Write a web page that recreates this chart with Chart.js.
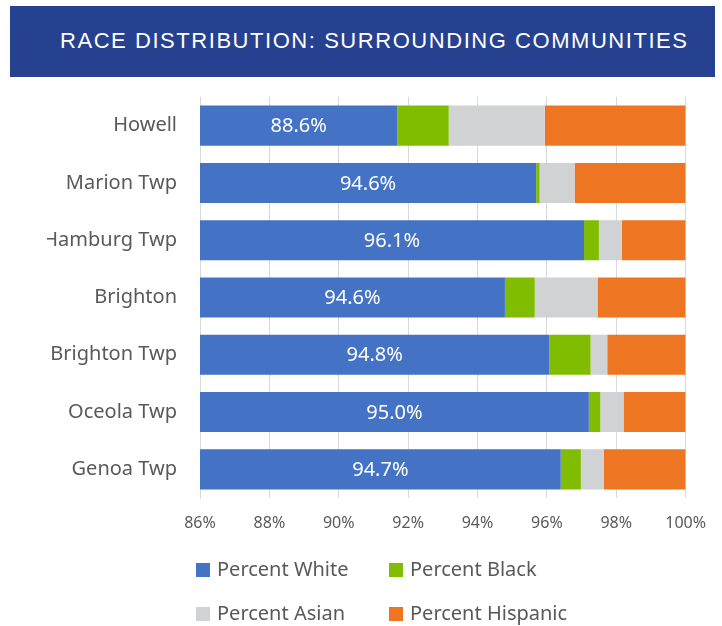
<!DOCTYPE html>
<html>
<head>
<meta charset="utf-8">
<script src="https://cdn.jsdelivr.net/npm/chart.js@4.4.1/dist/chart.umd.min.js"></script>
<style>
  body { margin: 0; background: #fff; width: 722px; height: 626px; overflow: hidden; position: relative; }
  #banner {
    position: absolute; left: 10px; top: 6px; width: 705px; height: 71px;
    background: #26418f; color: #fff;
    font-family: "Liberation Sans", Arial, sans-serif; font-size: 22px; letter-spacing: 1.55px;
    line-height: 69px; padding-left: 50px; box-sizing: border-box; white-space: nowrap;
  }
  #wrap { position: absolute; left: 47px; top: 62px; width: 675px; height: 564px; }
</style>
</head>
<body>
<div id="banner">RACE DISTRIBUTION: SURROUNDING COMMUNITIES</div>
<div id="wrap"><canvas id="myChart" width="675" height="564"></canvas></div>
<script>
// datos
const communities = ['Howell', 'Marion Twp', 'Hamburg Twp', 'Brighton', 'Brighton Twp', 'Oceola Twp', 'Genoa Twp'];
const pctWhite    = [91.69, 95.69, 97.07, 94.79, 96.07, 97.21, 96.40];
const pctBlack    = [1.48, 0.10, 0.43, 0.86, 1.19, 0.33, 0.58];
const pctAsian    = [2.77, 1.01, 0.66, 1.81, 0.48, 0.67, 0.66];
const pctHispanic = [4.06, 3.20, 1.84, 2.54, 2.26, 1.79, 2.36];
const whiteLabels = ['88.6%', '94.6%', '96.1%', '94.6%', '94.8%', '95.0%', '94.7%'];
const xTicks = [86, 88, 90, 92, 94, 96, 98, 100];

const grey = '#595959';
const fontFam = '"Noto Sans", "Open Sans", sans-serif';

// etiquetas blancas dentro de la barra azul
const whiteLabelPlugin = {
    id: 'whiteLabels',
    afterDatasetsDraw(chart) {
        const ctx = chart.ctx;
        const meta = chart.getDatasetMeta(0);
        ctx.save();
        ctx.fillStyle = '#ffffff';
        ctx.font = '20px ' + fontFam;
        ctx.textAlign = 'center';
        ctx.textBaseline = 'middle';
        meta.data.forEach((bar, i) => {
            const left = Math.max(Math.min(bar.base, bar.x), chart.chartArea.left);
            const cx = (left + bar.x) / 2;
            ctx.fillText(whiteLabels[i], cx, bar.y + 1);
        });
        ctx.restore();
    }
};

// leyenda en dos columnas
const legendPlugin = {
    id: 'gridLegend',
    afterDraw(chart) {
        const ctx = chart.ctx;
        const cols = [149, 342];
        const rows = [508, 552];
        ctx.save();
        ctx.font = '20px ' + fontFam;
        ctx.textBaseline = 'middle';
        ctx.textAlign = 'left';
        chart.data.datasets.forEach((ds, i) => {
            const x = cols[i % 2];
            const y = rows[Math.floor(i / 2)];
            ctx.fillStyle = ds.backgroundColor;
            ctx.fillRect(x, y - 7, 14, 14);
            ctx.fillStyle = grey;
            ctx.fillText(ds.label, x + 21, y);
        });
        ctx.restore();
    }
};

const ctx = document.getElementById('myChart').getContext('2d');
const myChart = new Chart(ctx, {
    type: 'bar',
    data: {
        labels: communities,
        datasets: [
            { label: 'Percent White', data: pctWhite, backgroundColor: '#4472c4' },
            { label: 'Percent Black', data: pctBlack, backgroundColor: '#80bc00' },
            { label: 'Percent Asian', data: pctAsian, backgroundColor: '#d1d2d4' },
            { label: 'Percent Hispanic', data: pctHispanic, backgroundColor: '#ee7623' }
        ]
    },
    options: {
        indexAxis: 'y',
        responsive: false,
        animation: false,
        devicePixelRatio: 1,
        categoryPercentage: 0.7,
        barPercentage: 1,
        layout: { padding: { top: 0, right: 17, bottom: 88, left: 0 } },
        plugins: {
            legend: { display: false },
            tooltip: { enabled: false }
        },
        scales: {
            x: {
                stacked: true,
                min: 86,
                max: 100,
                afterBuildTicks: (scale) => { scale.ticks = xTicks.map(v => ({ value: v })); },
                afterFit: (scale) => { scale.height = 40; },
                ticks: {
                    color: grey,
                    font: { family: fontFam, size: 16 },
                    padding: 16,
                    callback: (v) => v + '%'
                },
                grid: { color: '#d9d9d9', drawTicks: false },
                border: { display: false }
            },
            y: {
                stacked: true,
                afterFit: (scale) => { scale.width = 153; },
                ticks: {
                    color: grey,
                    font: { family: fontFam, size: 20 },
                    padding: 23
                },
                grid: { display: false, drawTicks: false },
                border: { color: '#d9d9d9' }
            }
        }
    },
    plugins: [whiteLabelPlugin, legendPlugin]
});
</script>
</body>
</html>
